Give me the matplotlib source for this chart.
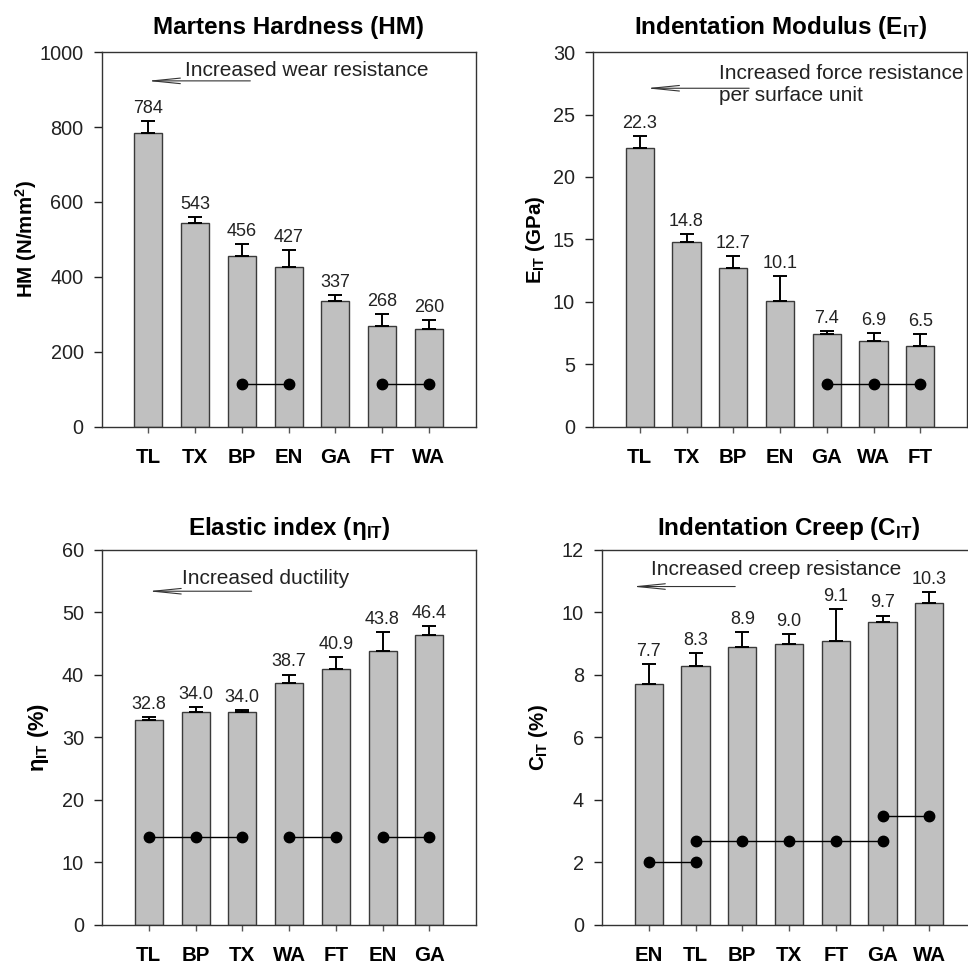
import matplotlib
matplotlib.use("Agg")
import matplotlib.pyplot as plt

plt.rcParams["font.family"] = ["Liberation Sans", "DejaVu Sans"]
plt.rcParams["mathtext.fontset"] = "custom"
plt.rcParams["mathtext.rm"] = "Liberation Sans"
plt.rcParams["mathtext.it"] = "Liberation Sans:italic"
plt.rcParams["mathtext.bf"] = "Liberation Sans:bold"

# Martens hardness
hm_labels = ["TL", "TX", "BP", "EN", "GA", "FT", "WA"]
hm_values = [784, 543, 456, 427, 337, 268, 260]
hm_errors = [32, 17, 32, 45, 15, 32, 24]
hm_groups = [["BP", "EN"], ["FT", "WA"]]
hm_levels = [115, 115]

# Indentation modulus
eit_labels = ["TL", "TX", "BP", "EN", "GA", "WA", "FT"]
eit_values = [22.3, 14.8, 12.7, 10.1, 7.4, 6.9, 6.5]
eit_errors = [1.0, 0.6, 1.0, 2.0, 0.3, 0.6, 0.95]
eit_groups = [["GA", "WA", "FT"]]
eit_levels = [3.4]

# Elastic index
eta_labels = ["TL", "BP", "TX", "WA", "FT", "EN", "GA"]
eta_values = [32.8, 34.0, 34.0, 38.7, 40.9, 43.8, 46.4]
eta_errors = [0.5, 0.9, 0.35, 1.35, 2.0, 3.1, 1.4]
eta_groups = [["TL", "BP", "TX"], ["WA", "FT"], ["EN", "GA"]]
eta_levels = [14, 14, 14]

# Indentation creep
cit_labels = ["EN", "TL", "BP", "TX", "FT", "GA", "WA"]
cit_values = [7.7, 8.3, 8.9, 9.0, 9.1, 9.7, 10.3]
cit_errors = [0.66, 0.4, 0.47, 0.3, 1.0, 0.2, 0.35]
cit_groups = [["EN", "TL"], ["TL", "BP", "TX", "FT", "GA"], ["GA", "WA"]]
cit_levels = [2.0, 2.7, 3.5]

TITLE_SIZE = 17.5
LABEL_SIZE = 14.8
TICK_SIZE = 14.3
NOTE_SIZE = 15
VALUE_SIZE = 13


def chart_panel(ax, labels, values, errors, groups, levels, fmt, ymax, ystep):
    x = list(range(len(labels)))
    ax.bar(x, values, width=0.6, color="#c0c0c0", edgecolor="#3a3a3a", linewidth=1.0, zorder=2)
    ax.errorbar(x, values, yerr=[[0] * len(values), errors], fmt="none", ecolor="black",
                elinewidth=1.4, capsize=4.7, capthick=1.4, zorder=3)
    for xi, v, e in zip(x, values, errors):
        ax.annotate(fmt.format(v), (xi, v + e), xytext=(0, 3), textcoords="offset points",
                    ha="center", va="bottom", fontsize=VALUE_SIZE, color="#222222")
    for group, level in zip(groups, levels):
        gx = [labels.index(g) for g in group]
        ax.plot(gx, [level] * len(gx), "-o", color="black", lw=1.0, markersize=7.5, zorder=4)
    ax.set_xlim(-1, 7)
    ax.set_ylim(0, ymax)
    ax.set_yticks([ystep * i for i in range(int(round(ymax / ystep)) + 1)])
    ax.set_xticks(x)
    ax.set_xticklabels(labels, fontweight="bold", fontsize=14.8)
    ax.tick_params(axis="y", direction="out", length=5.5, width=1, labelsize=TICK_SIZE, pad=7.5, colors="#222222")
    ax.tick_params(axis="x", direction="out", length=4, width=1, pad=11, color="#555555")
    for spine in ax.spines.values():
        spine.set_color("#333333")
        spine.set_linewidth(1.0)


def arrow_note(ax, head_x, tail_x, y, text_x, text_y, text):
    ax.annotate("", xy=(head_x, y), xytext=(tail_x, y),
                arrowprops=dict(arrowstyle="->,head_length=2.0,head_width=0.2", lw=0.8,
                                color="#333333", shrinkA=0, shrinkB=0))
    ax.text(text_x, text_y, text, ha="left", va="center", fontsize=NOTE_SIZE, color="#222222")


fig = plt.figure(figsize=(9.68, 9.63), dpi=100)
w, h = 0.3864, 0.3894
ax1 = fig.add_axes([0.105, 0.5566, w, h])
ax2 = fig.add_axes([0.6126, 0.5566, w, h])
ax3 = fig.add_axes([0.1054, 0.0395, w, h])
ax4 = fig.add_axes([0.6219, 0.0395, w, h])

chart_panel(ax1, hm_labels, hm_values, hm_errors, hm_groups, hm_levels, "{:.0f}", 1000, 200)
ax1.set_title("Martens Hardness (HM)", fontsize=TITLE_SIZE, fontweight="bold", pad=13)
ax1.set_ylabel(r"HM (N/mm$^{\mathbf{2}}$)", fontsize=LABEL_SIZE, fontweight="bold", va="center")
ax1.yaxis.set_label_coords(-0.203, 0.5)
arrow_note(ax1, -0.03, 2.18, 923, 0.78, 950, "Increased wear resistance")

chart_panel(ax2, eit_labels, eit_values, eit_errors, eit_groups, eit_levels, "{:.1f}", 30, 5)
ax2.set_title(r"Indentation Modulus (E$_{\mathbf{IT}}$)", fontsize=TITLE_SIZE, fontweight="bold", pad=13)
ax2.set_ylabel(r"E$_{\mathbf{IT}}$ (GPa)", fontsize=LABEL_SIZE, fontweight="bold", va="center")
ax2.yaxis.set_label_coords(-0.155, 0.5)
arrow_note(ax2, 0.135, 2.34, 27.1, 1.70, 27.4, "Increased force resistance\nper surface unit")

chart_panel(ax3, eta_labels, eta_values, eta_errors, eta_groups, eta_levels, "{:.1f}", 60, 10)
ax3.set_title(r"Elastic index (η$_{\mathbf{IT}}$)", fontsize=TITLE_SIZE, fontweight="bold", pad=11)
ax3.set_ylabel(r"η$_{\mathbf{IT}}$ (%)", fontsize=LABEL_SIZE + 1, fontweight="bold", va="center")
ax3.yaxis.set_label_coords(-0.171, 0.5)
arrow_note(ax3, -0.02, 2.2, 53.4, 0.71, 55.4, "Increased ductility")

chart_panel(ax4, cit_labels, cit_values, cit_errors, cit_groups, cit_levels, "{:.1f}", 12, 2)
ax4.set_title(r"Indentation Creep (C$_{\mathbf{IT}}$)", fontsize=TITLE_SIZE, fontweight="bold", pad=11)
ax4.set_ylabel(r"C$_{\mathbf{IT}}$ (%)", fontsize=LABEL_SIZE, fontweight="bold", va="center")
ax4.yaxis.set_label_coords(-0.171, 0.5)
arrow_note(ax4, -0.36, 1.85, 10.83, 0.04, 11.37, "Increased creep resistance")

fig.savefig("out.png", dpi=100)
